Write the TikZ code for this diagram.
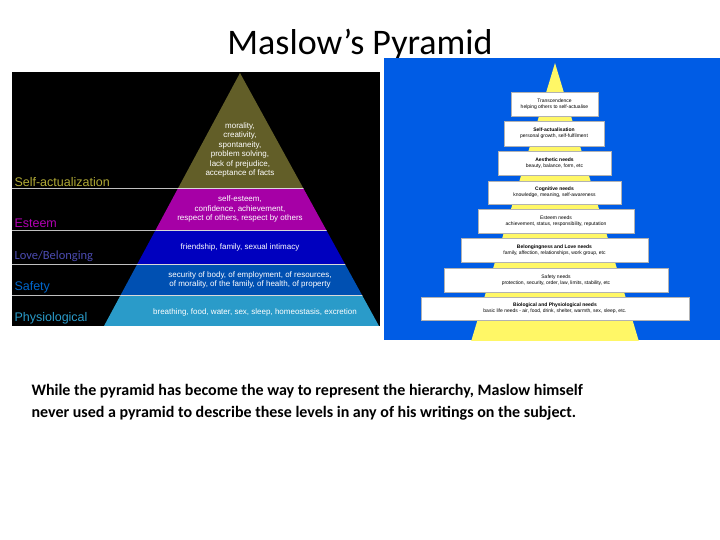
\documentclass[tikz,border=0pt]{standalone}
\usepackage{fontspec}
\setmainfont{Carlito}
\newfontfamily\arialf{Liberation Sans}
\begin{document}
\begin{tikzpicture}[x=1pt,y=-1pt,
  pt/.style={font=\arialf\fontsize{8}{9.5}\selectfont,text=white,align=center},
  lab/.style={font=\arialf\fontsize{12.5}{14}\selectfont,anchor=west},
  bx/.style={draw=gray!60,fill=white,align=center,font=\arialf\fontsize{5}{6}\selectfont,inner sep=0pt}]
\useasboundingbox[fill=white] (0,0) rectangle (720,540);
\node[font=\fontsize{36}{40}\selectfont] (title) at (360,45) {Maslow’s Pyramid};
% left image
\fill[black] (12,72) rectangle (380,326);
\begin{scope}
\clip (240,73) -- (104,326) -- (379,326) -- cycle;
\fill[olive!60!black] (100,70) rectangle (380,188);
\fill[violet!70!magenta] (100,188) rectangle (380,230);
\fill[blue!75!black] (100,230) rectangle (380,264);
\fill[blue!55!cyan!70!black] (100,264) rectangle (380,295);
\fill[cyan!60!teal] (100,295) rectangle (380,326);
\foreach \y in {188,230,264,295} \draw[white!85!black,line width=0.8] (100,\y) -- (380,\y);
\end{scope}
\foreach \y in {188,230,264,295} \draw[white!75!black,line width=0.8] (12,\y) -- ({240-0.5375*(\y-73)},\y);
\node[pt] (t1) at (240,150) {morality,\\creativity,\\spontaneity,\\problem solving,\\lack of prejudice,\\acceptance of facts};
\node[pt] (t2) at (240,209) {self-esteem,\\confidence, achievement,\\respect of others, respect by others};
\node[pt] (t3) at (240,247) {friendship, family, sexual intimacy};
\node[pt] (t4) at (250,280) {security of body, of employment, of resources,\\of morality, of the family, of health, of property};
\node[pt] (t5) at (255,312) {breathing, food, water, sex, sleep, homeostasis, excretion};
\node[lab,text=olive!70!white] (l1) at (11,182) {Self-actualization};
\node[lab,text=violet!60!magenta] (l2) at (11,223) {Esteem};
\node[lab,text=blue!40!gray,font=\fontsize{12.5}{14}\selectfont] (l3) at (11,256) {Love/Belonging};
\node[lab,text=blue!50!cyan!80!black] (l4) at (11,287) {Safety};
\node[lab,text=cyan!60!teal] (l5) at (11,318) {Physiological};
% right image
\fill[blue!60!cyan!90!black] (384,58) rectangle (720,340);
\begin{scope}
\clip (384,58) rectangle (720,340);
\fill[yellow!60!white] (555,63) -- (470,345) -- (640,345) -- cycle;
\end{scope}
\node[bx,minimum width=87,minimum height=24] (b1) at (554.5,104) {Transcendence\\helping others to self-actualise};
\node[bx,minimum width=100,minimum height=25] (b2) at (554,133.5) {\textbf{Self-actualisation}\\personal growth, self-fulfilment};
\node[bx,minimum width=113,minimum height=24] (b3) at (554.5,163) {\textbf{Aesthetic needs}\\beauty, balance, form, etc};
\node[bx,minimum width=133,minimum height=23] (b4) at (554.5,192.5) {\textbf{Cognitive needs}\\knowledge, meaning, self-awareness};
\node[bx,minimum width=156,minimum height=24] (b5) at (556,221) {Esteem needs\\achievement, status, responsibility, reputation};
\node[bx,minimum width=187,minimum height=24] (b6) at (554.5,250) {\textbf{Belongingness and Love needs}\\family, affection, relationships, work group, etc};
\node[bx,minimum width=224,minimum height=24] (b7) at (556,280) {Safety needs\\protection, security, order, law, limits, stability, etc};
\node[bx,minimum width=268,minimum height=23] (b8) at (555,308.5) {\textbf{Biological and Physiological needs}\\basic life needs - air, food, drink, shelter, warmth, sex, sleep, etc.};
% caption
\node[anchor=north west,align=left,font=\bfseries\fontsize{16}{22}\selectfont] (cap) at (28,381)
 {While the pyramid has become the way to represent the hierarchy, Maslow himself\\never used a pyramid to describe these levels in any of his writings on the subject.};
\end{tikzpicture}
\end{document}
